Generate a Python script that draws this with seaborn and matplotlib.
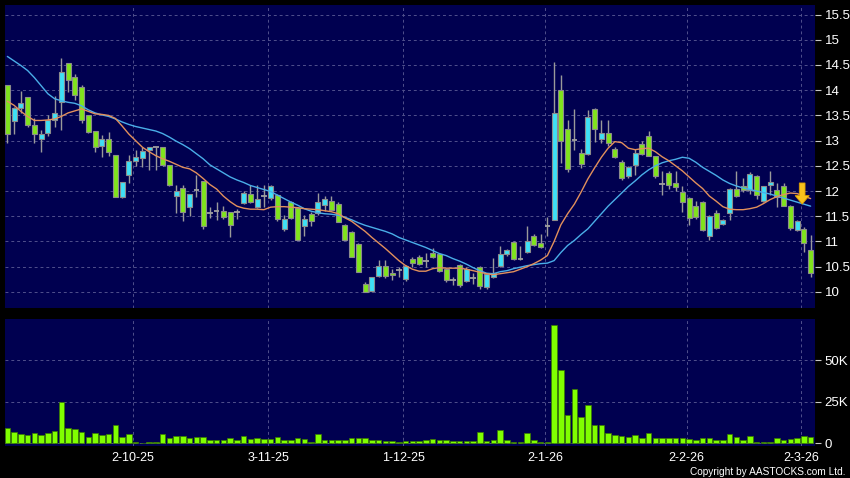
import numpy as np
import pandas as pd
import matplotlib
matplotlib.use("Agg")
import matplotlib.pyplot as plt
import seaborn as sns
from matplotlib.patches import FancyArrow

# trading days shown (HK calendar, holidays removed)
holidays = ["2025-10-01", "2025-10-07", "2025-10-29", "2025-12-25", "2025-12-26",
            "2026-01-01", "2026-02-17", "2026-02-18", "2026-02-19"]
dates = pd.bdate_range("2025-09-04", "2026-03-03")
dates = dates[~dates.isin(pd.to_datetime(holidays))]

opens = [14.10, 13.39, 13.64, 13.86, 13.31, 13.03, 13.15, 13.40, 13.76, 14.54,
         14.26, 14.06, 13.51, 13.20, 12.90, 13.03, 12.72, 11.88, 12.32, 12.59,
         12.66, 12.82, 12.87, 12.88, 12.52, 11.91, 12.06, 11.68, 12.02, 12.19,
         11.57, 11.60, 11.61, 11.58, 11.59, 11.76, 11.94, 11.69, 11.90, 11.86,
         11.92, 11.24, 11.79, 11.66, 11.30, 11.54, 11.56, 11.73, 11.81, 11.75,
         11.33, 11.18, 10.95, 10.15, 10.01, 10.32, 10.52, 10.38, 10.44, 10.25,
         10.65, 10.70, 10.62, 10.77, 10.75, 10.45, 10.24, 10.54, 10.22, 10.28,
         10.50, 10.09, 10.29, 10.52, 10.75, 10.99, 10.65, 10.79, 11.11, 10.97,
         11.31, 11.43, 14.01, 13.23, 13.02, 12.75, 12.74, 13.62, 13.03, 13.15,
         12.83, 12.57, 12.29, 12.52, 12.94, 13.10, 12.69, 12.14, 12.35, 12.16,
         11.99, 11.86, 11.71, 11.79, 11.11, 11.56, 11.35, 11.57, 12.04, 12.10,
         12.02, 12.30, 11.81, 12.12, 12.02, 12.10, 11.71, 11.22, 11.24, 10.83]
highs = [14.10, 13.66, 13.99, 13.86, 13.45, 13.21, 13.51, 13.88, 14.64, 14.54,
         14.33, 14.10, 13.51, 13.20, 13.11, 13.18, 12.72, 12.18, 12.72, 12.82,
         12.88, 12.88, 12.88, 12.88, 12.52, 12.12, 12.12, 11.94, 12.32, 12.19,
         11.69, 11.79, 11.70, 11.58, 11.65, 12.00, 12.12, 12.12, 12.12, 12.12,
         11.95, 11.52, 11.80, 11.68, 11.52, 11.59, 11.96, 11.90, 11.90, 11.78,
         11.35, 11.20, 10.97, 10.20, 10.29, 10.63, 10.63, 10.46, 10.49, 10.53,
         10.70, 10.73, 10.77, 10.87, 10.77, 10.47, 10.30, 10.56, 10.50, 10.38,
         10.52, 10.37, 10.67, 10.90, 10.85, 11.00, 10.90, 11.30, 11.15, 11.15,
         11.49, 14.55, 14.31, 13.41, 13.62, 12.84, 13.60, 13.64, 13.41, 13.41,
         12.88, 12.62, 12.50, 12.84, 13.00, 13.20, 12.70, 12.39, 12.40, 12.39,
         12.09, 11.88, 11.80, 11.80, 11.53, 11.62, 11.45, 12.06, 12.39, 12.25,
         12.37, 12.32, 12.10, 12.39, 12.15, 12.16, 11.73, 11.43, 11.28, 11.13]
lows = [12.95, 13.13, 13.55, 13.27, 12.96, 12.78, 13.10, 13.27, 13.21, 13.97,
        13.81, 13.35, 13.16, 12.78, 12.67, 12.70, 11.89, 11.86, 12.16, 12.49,
        12.48, 12.42, 12.42, 12.50, 12.10, 11.56, 11.40, 11.50, 11.89, 11.24,
        11.46, 11.43, 11.45, 11.09, 11.45, 11.74, 11.76, 11.66, 11.69, 11.83,
        11.40, 11.20, 11.44, 11.02, 11.10, 11.31, 11.53, 11.60, 11.60, 11.38,
        11.02, 10.69, 10.39, 9.99, 10.00, 10.30, 10.27, 10.24, 10.30, 10.22,
        10.50, 10.54, 10.50, 10.68, 10.40, 10.20, 10.14, 10.10, 10.20, 10.16,
        10.06, 10.05, 10.27, 10.50, 10.72, 10.63, 10.63, 10.77, 10.90, 10.88,
        11.10, 11.43, 12.55, 12.37, 12.82, 12.45, 12.72, 12.98, 12.96, 12.90,
        12.65, 12.22, 12.26, 12.31, 12.72, 12.70, 12.26, 11.92, 12.05, 12.00,
        11.59, 11.33, 11.45, 11.20, 11.02, 11.24, 11.33, 11.42, 11.88, 11.98,
        11.95, 11.85, 11.78, 11.92, 11.68, 11.70, 11.23, 11.20, 10.80, 10.29]
closes = [13.13, 13.64, 13.74, 13.31, 13.13, 13.13, 13.41, 13.55, 14.36, 14.21,
          13.90, 13.40, 13.18, 12.88, 13.04, 12.78, 11.89, 12.18, 12.59, 12.67,
          12.80, 12.88, 12.87, 12.52, 12.12, 12.01, 11.59, 11.94, 12.02, 11.30,
          11.57, 11.60, 11.49, 11.33, 11.59, 11.96, 11.78, 11.84, 11.90, 12.09,
          11.44, 11.44, 11.46, 11.02, 11.44, 11.40, 11.78, 11.84, 11.63, 11.38,
          11.02, 10.69, 10.39, 9.99, 10.29, 10.52, 10.32, 10.33, 10.44, 10.52,
          10.57, 10.56, 10.62, 10.70, 10.42, 10.24, 10.24, 10.14, 10.45, 10.28,
          10.11, 10.35, 10.37, 10.75, 10.83, 10.65, 10.65, 11.00, 10.92, 10.89,
          11.31, 13.55, 13.00, 12.43, 13.02, 12.54, 13.47, 13.23, 13.15, 12.95,
          12.67, 12.26, 12.47, 12.76, 12.74, 12.70, 12.30, 12.14, 12.12, 12.08,
          11.79, 11.46, 11.48, 11.23, 11.51, 11.26, 11.42, 12.04, 11.90, 12.02,
          12.34, 11.92, 12.10, 12.17, 11.89, 11.71, 11.26, 11.41, 10.97, 10.37]

ma_short = [13.78, 13.70, 13.58, 13.48, 13.40, 13.40, 13.41, 13.43, 13.48, 13.55,
            13.59, 13.63, 13.58, 13.53, 13.52, 13.50, 13.44, 13.29, 13.13, 13.00,
            12.87, 12.78, 12.70, 12.64, 12.59, 12.53, 12.47, 12.44, 12.36, 12.25,
            12.13, 12.04, 11.90, 11.79, 11.70, 11.66, 11.64, 11.64, 11.63, 11.68,
            11.69, 11.69, 11.68, 11.67, 11.65, 11.64, 11.63, 11.61, 11.59, 11.55,
            11.47, 11.40, 11.30, 11.20, 11.08, 10.97, 10.86, 10.74, 10.62, 10.52,
            10.45, 10.41, 10.41, 10.46, 10.48, 10.47, 10.47, 10.47, 10.45, 10.42,
            10.39, 10.36, 10.34, 10.36, 10.38, 10.40, 10.45, 10.50, 10.56, 10.63,
            10.72, 11.00, 11.33, 11.55, 11.74, 11.98, 12.24, 12.46, 12.67, 12.85,
            12.98, 12.96, 12.85, 12.82, 12.84, 12.85, 12.78, 12.68, 12.60, 12.50,
            12.40, 12.28, 12.16, 12.05, 11.90, 11.80, 11.69, 11.64, 11.63, 11.63,
            11.65, 11.68, 11.75, 11.83, 11.89, 11.93, 11.96, 11.95, 11.90, 11.85]
ma_long = [14.67, 14.58, 14.49, 14.39, 14.25, 14.09, 13.93, 13.83, 13.79, 13.76,
           13.74, 13.69, 13.61, 13.55, 13.51, 13.48, 13.43, 13.37, 13.32, 13.28,
           13.25, 13.22, 13.19, 13.14, 13.07, 12.99, 12.92, 12.84, 12.74, 12.64,
           12.52, 12.44, 12.36, 12.28, 12.22, 12.17, 12.11, 12.07, 12.03, 11.99,
           11.92, 11.85, 11.78, 11.72, 11.65, 11.60, 11.57, 11.55, 11.54, 11.52,
           11.48, 11.43, 11.37, 11.32, 11.28, 11.24, 11.20, 11.15, 11.08, 11.03,
           10.98, 10.93, 10.88, 10.82, 10.76, 10.72, 10.66, 10.61, 10.55, 10.48,
           10.42, 10.37, 10.36, 10.40, 10.42, 10.46, 10.49, 10.52, 10.54, 10.56,
           10.57, 10.62, 10.78, 10.92, 11.02, 11.14, 11.25, 11.40, 11.55, 11.70,
           11.83, 11.96, 12.09, 12.20, 12.32, 12.42, 12.50, 12.56, 12.60, 12.63,
           12.67, 12.65, 12.57, 12.47, 12.39, 12.31, 12.22, 12.15, 12.10, 12.06,
           12.03, 12.00, 11.97, 11.94, 11.90, 11.86, 11.82, 11.78, 11.74, 11.70]

# volume in thousands of shares
volumes = [9.0, 6.7, 5.7, 5.0, 6.0, 5.0, 6.3, 7.3, 24.8, 9.3,
           8.7, 6.9, 3.9, 5.9, 4.9, 5.5, 11.2, 3.9, 5.7, 0.8,
           0.1, 0.6, 0.8, 5.7, 3.2, 4.0, 4.5, 3.2, 3.9, 3.9,
           2.0, 1.6, 1.6, 3.2, 2.0, 4.5, 2.2, 3.0, 2.4, 2.4,
           3.9, 1.6, 2.0, 3.0, 2.4, 0.8, 5.3, 2.0, 1.6, 1.6,
           2.0, 3.0, 3.0, 3.0, 2.0, 1.6, 1.0, 1.0, 0.8, 1.0,
           1.0, 1.2, 1.6, 2.4, 2.0, 2.0, 1.0, 1.2, 1.4, 1.0,
           6.5, 1.2, 2.0, 7.9, 1.6, 0.8, 0.4, 6.1, 1.6, 0.8,
           0.8, 71.6, 44.4, 17.1, 32.9, 15.5, 22.8, 10.7, 11.1, 6.0,
           4.6, 4.4, 3.8, 5.0, 3.2, 6.2, 3.2, 2.8, 3.2, 2.8,
           2.8, 2.4, 1.6, 3.0, 3.0, 2.0, 2.0, 5.6, 3.8, 1.6,
           4.0, 0.4, 0.4, 0.4, 3.0, 2.0, 2.6, 3.0, 4.4, 3.6]

price_ticks = [10, 10.5, 11, 11.5, 12, 12.5, 13, 13.5, 14, 14.5, 15, 15.5]
vol_ticks = [0, 25, 50]
vol_labels = ["0", "25K", "50K"]

# colours
BG = "#000050"
GRID = "#50508c"
UP = "#3ee0f6"
DOWN = "#80e41c"
FLAT = "#a0a0a0"

idx = np.arange(len(dates))
o = np.array(opens)
c = np.array(closes)

# first trading day of every month -> x tick
month_start = [i for i in range(1, len(dates)) if dates[i].month != dates[i - 1].month]
tick_pos = [i - 0.35 for i in month_start]
tick_lab = [f"{dates[i].day}-{dates[i].month}-{dates[i].strftime('%y')}" for i in month_start]

sns.set_style("dark")
plt.rcParams["font.family"] = ["Liberation Sans", "DejaVu Sans"]

fig = plt.figure(figsize=(8.5, 4.78), dpi=100, facecolor="black")
ax = fig.add_axes([5 / 850, 1 - 308 / 478, 810 / 850, 303 / 478])
axv = fig.add_axes([5 / 850, 1 - 446 / 478, 810 / 850, 127 / 478])

for a in (ax, axv):
    a.set_facecolor(BG)
    for s in a.spines.values():
        s.set_visible(False)
    a.grid(False)

# ---- price panel ----
ax.vlines(idx, lows, highs, color="#9a9a9a", lw=1, zorder=2)
up = c > o
dn = c < o
fl = c == o
ax.bar(idx[up], (c - o)[up], bottom=o[up], width=0.74, color=UP,
       edgecolor="#8c8c8c", linewidth=0.8, zorder=3)
ax.bar(idx[dn], (o - c)[dn], bottom=c[dn], width=0.74, color=DOWN,
       edgecolor="#8c8c8c", linewidth=0.8, zorder=3)
ax.hlines(c[fl], idx[fl] - 0.4, idx[fl] + 0.4, color=FLAT, lw=1.3, zorder=3)

sns.lineplot(x=idx, y=ma_long, color="#4aaee8", lw=1.0, ax=ax, zorder=4)
sns.lineplot(x=idx, y=ma_short, color="#e2905c", lw=1.0, ax=ax, zorder=4)

# yellow arrow on the latest bar
arrow_x = idx[-1] - 1.25
ax.add_patch(FancyArrow(arrow_x, ma_long[-1] + 0.46, 0, -0.42, width=0.85,
                        head_width=2.1, head_length=0.17, length_includes_head=True,
                        fc="#f8c21c", ec="#d89a00", lw=0.6, zorder=6))

ax.set_xlim(-0.35, len(idx) - 0.35)
ax.set_ylim(9.68, 15.69)
ax.set_yticks(price_ticks)
ax.set_yticklabels([f"{t:g}" for t in price_ticks])
ax.set_xticks(tick_pos)
ax.yaxis.tick_right()
ax.tick_params(axis="y", colors="#c8c8c8", labelcolor="white", labelsize=9.5,
               length=4, width=0.8, pad=3)
ax.tick_params(axis="x", length=0, labelbottom=False)
ax.grid(True, color=GRID, linestyle=(0, (3, 3)), lw=0.7, zorder=0)
ax.set_xlabel("")
ax.set_ylabel("")

# ---- volume panel ----
sns.barplot(x=idx, y=volumes, native_scale=True, color="#80ff00", saturation=1,
            edgecolor="#3a7a00", linewidth=0.5, width=0.8, errorbar=None, ax=axv, zorder=3)
axv.set_xlim(-0.35, len(idx) - 0.35)
axv.set_ylim(-1.8, 75)
axv.set_yticks(vol_ticks)
axv.set_yticklabels(vol_labels)
axv.set_xticks(tick_pos)
axv.set_xticklabels(tick_lab)
axv.yaxis.tick_right()
axv.tick_params(axis="y", colors="#c8c8c8", labelcolor="white", labelsize=9.5,
                length=4, width=0.8, pad=3)
axv.tick_params(axis="x", colors="#c8c8c8", labelcolor="white", labelsize=9,
                length=3, width=0.8, pad=1.5)
axv.grid(True, color=GRID, linestyle=(0, (3, 3)), lw=0.7, zorder=0)
axv.set_xlabel("")
axv.set_ylabel("")

fig.text(0.995, 0.003, "Copyright by AASTOCKS.com Ltd.", color="white",
         fontsize=7.3, ha="right", va="bottom")

fig.savefig("out.png", dpi=100, facecolor="black")
